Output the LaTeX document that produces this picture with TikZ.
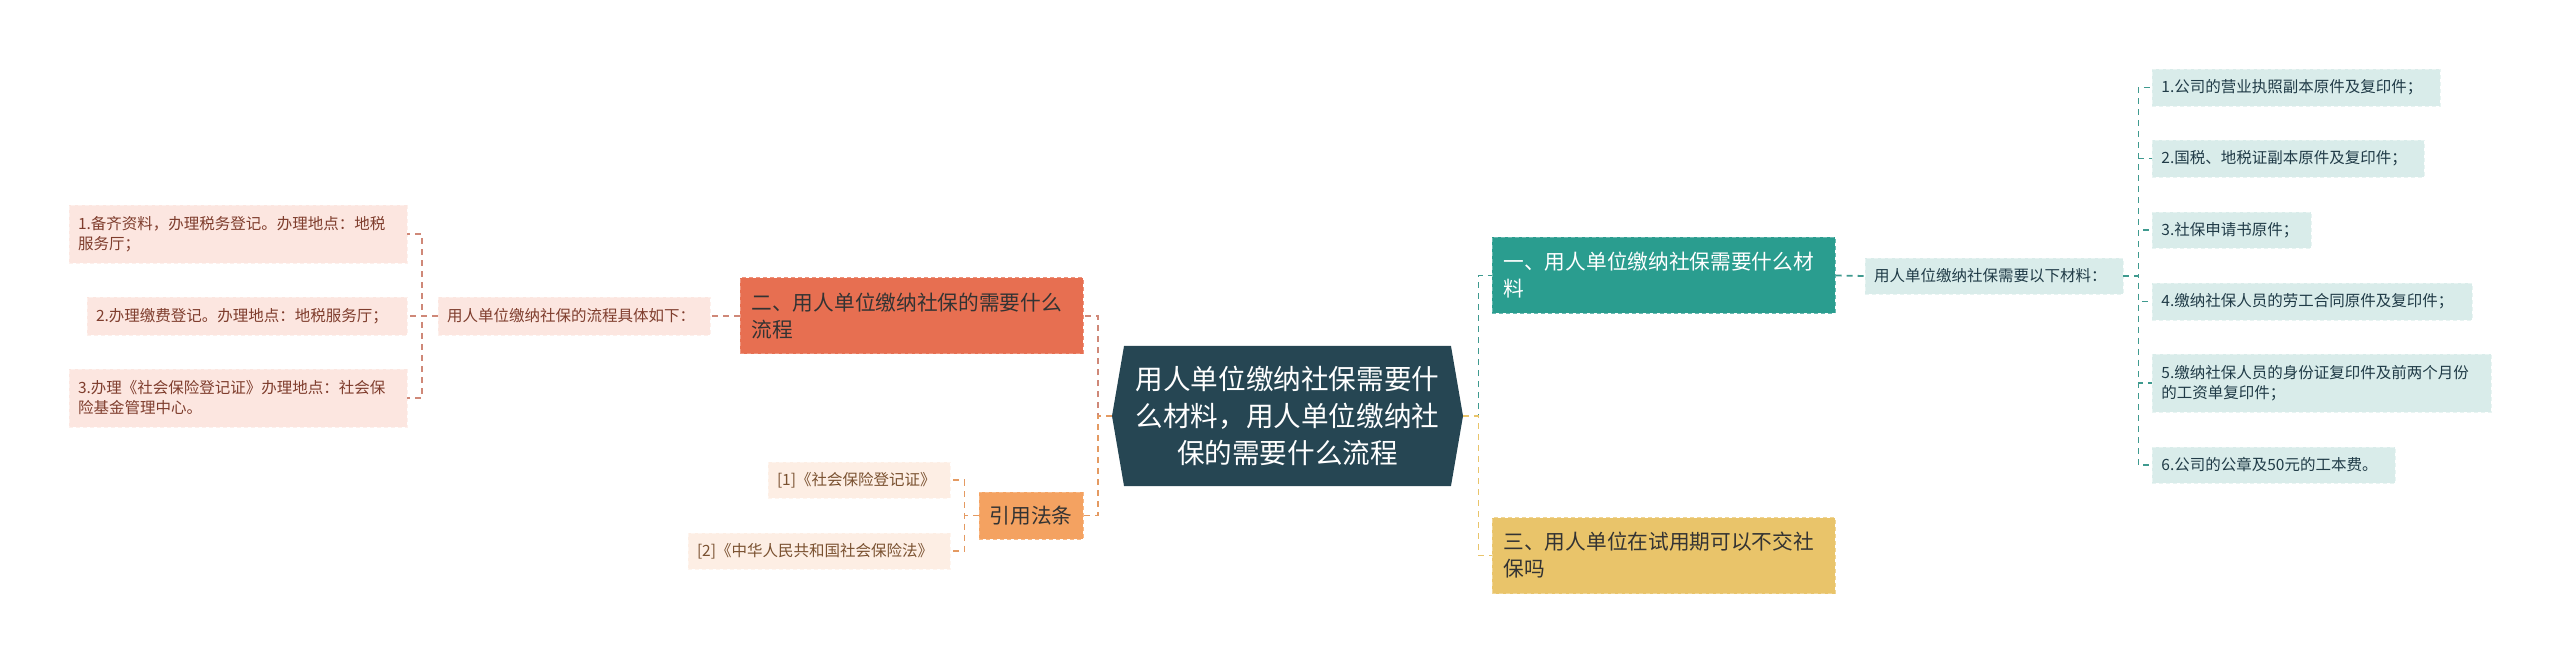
\documentclass[tikz,border=0pt]{standalone}
\usepackage{fontspec}
\setmainfont{Noto Sans CJK SC}
\usetikzlibrary{shapes.symbols}
\definecolor{slate}{HTML}{264653}
\definecolor{teal}{HTML}{2A9D8F}
\definecolor{gold}{HTML}{E9C46A}
\definecolor{sandy}{HTML}{F4A261}
\definecolor{coral}{HTML}{E76F51}
\definecolor{coralline}{HTML}{CF8878}
\definecolor{sandline}{HTML}{E49A62}
\definecolor{tealline}{HTML}{3F9A8F}
\definecolor{pinkfill}{HTML}{FCE6E0}
\definecolor{peachfill}{HTML}{FDEEE4}
\definecolor{mintfill}{HTML}{D9ECEA}
\begin{document}
\begin{tikzpicture}[x=1pt, y=1pt,
    ctrbox/.style={signal, signal to=west and east, signal pointer angle=160.5,
      fill=slate, text=white, align=center, text width=153pt,
      minimum width=175.5pt, minimum height=70pt, inner sep=0pt,
      font=\fontsize{13.8pt}{18.5pt}\selectfont},
    topicbox/.style={align=left, text width=160pt, inner xsep=5.75pt, inner ysep=0pt,
      minimum height=38pt, line width=0.5pt, dash pattern=on 2pt off 1.5pt,
      font=\fontsize{10.35pt}{13.5pt}\selectfont},
    leafbox/.style={align=left, inner xsep=4.5pt, inner ysep=0pt, line width=0.4pt,
      dash pattern=on 2pt off 1.5pt, font=\fontsize{7.75pt}{10pt}\selectfont},
    lleaf/.style={leafbox, fill=pinkfill, draw=pinkfill!60!white, text=coral!55!black},
    pleaf/.style={leafbox, fill=peachfill, draw=peachfill!60!white, text=sandy!50!black},
    rleaf/.style={leafbox, fill=mintfill, draw=mintfill!60!white, text=slate!85!black},
    link/.style={line width=0.9pt, dash pattern=on 3pt off 2.5pt}
  ]
  \useasboundingbox (0,0) rectangle (1280,-331.5);

  % centre
  \node[ctrbox] (ctr) at (643.75,-208)
    {用人单位缴纳社保需要什\\么材料，用人单位缴纳社\\保的需要什么流程};

  % left branch
  \node[topicbox, fill=coral, draw=coral!75!white, text=black!80] (two) at (455.75,-158)
    {二、用人单位缴纳社保的需要什么\\流程};
  \node[lleaf, text width=127pt, minimum height=19pt] (mid2) at (287,-158)
    {用人单位缴纳社保的流程具体如下：};
  \node[lleaf, text width=160pt, minimum height=29pt] (l1) at (119,-117)
    {1.备齐资料，办理税务登记。办理地点：地税\\服务厅；};
  \node[lleaf, text width=151pt, minimum height=19pt] (l2) at (123.5,-158)
    {2.办理缴费登记。办理地点：地税服务厅；};
  \node[lleaf, text width=160pt, minimum height=29pt] (l3) at (119,-199)
    {3.办理《社会保险登记证》办理地点：社会保\\险基金管理中心。};

  \node[fill=sandy, draw=sandy!75!white, dash pattern=on 2pt off 1.5pt, line width=0.5pt,
    minimum width=52pt, minimum height=23.5pt, inner sep=0pt, text=black!80,
    font=\fontsize{10.35pt}{13.5pt}\selectfont] (law) at (515.5,-257.75) {引用法条};
  \node[pleaf, text width=82pt, minimum height=18pt] (ref1) at (429.5,-240)
    {[1]《社会保险登记证》};
  \node[pleaf, text width=122pt, minimum height=18pt] (ref2) at (409.5,-275.5)
    {[2]《中华人民共和国社会保险法》};

  % right branch
  \node[topicbox, fill=teal, draw=teal!70!white, text=white] (one) at (831.75,-137.75)
    {一、用人单位缴纳社保需要什么材\\料};
  \node[topicbox, fill=gold, draw=gold!70!white, text=black!80] (three) at (831.75,-277.75)
    {三、用人单位在试用期可以不交社\\保吗};
  \node[rleaf, text width=120pt, minimum height=18pt] (mid1) at (997,-138)
    {用人单位缴纳社保需要以下材料：};
  \foreach \i/\yy/\tw/\hh/\txt in {%
    1/-43.75/135/18.5/{1.公司的营业执照副本原件及复印件；},
    2/-79.25/127/18.5/{2.国税、地税证副本原件及复印件；},
    3/-115/70.5/18/{3.社保申请书原件；},
    4/-150.75/151/18.5/{4.缴纳社保人员的劳工合同原件及复印件；},
    5/-191.5/160.5/29/{5.缴纳社保人员的身份证复印件及前两个月份\\的工资单复印件；},
    6/-232.5/112.5/18/{6.公司的公章及50元的工本费。}%
  }{
    \node[rleaf, text width=\tw pt, minimum height=\hh pt, anchor=west] (r\i) at (1076,\yy) {\txt};
    \draw[link, tealline] (mid1.east) -- ++(7.5,0) |- (r\i.west);
  }

  % connectors
  \draw[link, coralline] (ctr.west) -- ++(-7,0) |- (two.east);
  \draw[link, sandline] (ctr.west) -- ++(-7,0) |- (law.east);
  \draw[link, coralline] (two.west) -- (mid2.east);
  \foreach \n in {l1,l2,l3}
    \draw[link, coralline] (mid2.west) -- ++(-8,0) |- (\n.east);
  \foreach \n in {ref1,ref2}
    \draw[link, sandline] (law.west) -- ++(-7,0) |- (\n.east);
  \draw[link, tealline] (ctr.east) -- ++(7.5,0) |- (one.west);
  \draw[link, gold] (ctr.east) -- ++(7.5,0) |- (three.west);
  \draw[link, tealline] (one.east) -- (mid1.west);
\end{tikzpicture}
\end{document}
